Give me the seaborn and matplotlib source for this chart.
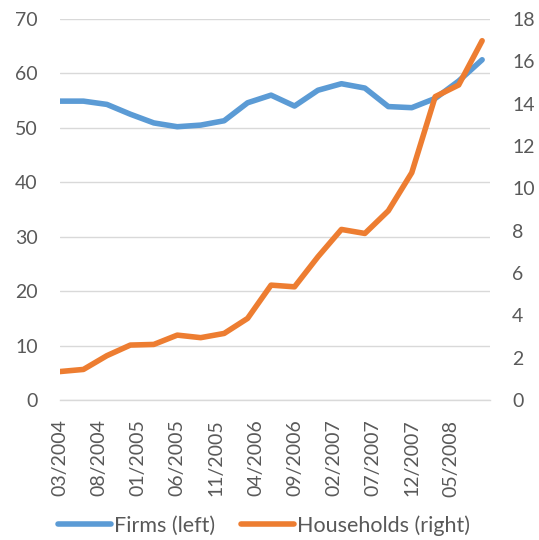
import matplotlib
matplotlib.use("Agg")
import matplotlib.pyplot as plt
import seaborn as sns
import pandas as pd
import numpy as np

# quarterly observations, x measured in months since 03/2004
months = [0, 3, 6, 9, 12, 15, 18, 21, 24, 27, 30, 33, 36, 39, 42, 45, 48, 51, 54]
firms = [54.9, 54.9, 54.3, 52.5, 50.9, 50.2, 50.5, 51.3, 54.6, 56.0,
         54.0, 56.9, 58.1, 57.3, 53.9, 53.7, 55.4, 58.6, 62.5]
households = [1.35, 1.45, 2.1, 2.6, 2.63, 3.07, 2.95, 3.15, 3.86, 5.43,
              5.35, 6.77, 8.06, 7.87, 8.94, 10.74, 14.33, 14.88, 16.97]

tick_months = [0, 5, 10, 15, 20, 25, 30, 35, 40, 45, 50, 55]
tick_labels = ["03/2004", "08/2004", "01/2005", "06/2005", "11/2005", "04/2006",
               "09/2006", "02/2007", "07/2007", "12/2007", "05/2008", ""]

df = pd.DataFrame({"month": months, "firms": firms, "households": households})

sns.set_style("white")
plt.rcParams["font.family"] = ["Lato", "DejaVu Sans"]

blue = "#5B9BD5"
orange = "#ED7D31"
grey_txt = "#595959"
grid_col = "#D9D9D9"

fig, ax = plt.subplots(figsize=(5.39, 5.40), dpi=100)
fig.subplots_adjust(left=0.1113, right=0.909, top=0.965, bottom=0.259)
ax2 = ax.twinx()

sns.lineplot(data=df, x="month", y="firms", ax=ax, color=blue, lw=4,
             label="Firms (left)", legend=False)
sns.lineplot(data=df, x="month", y="households", ax=ax2, color=orange, lw=4,
             label="Households (right)", legend=False)

ax.set_ylim(0, 70)
ax.set_yticks(np.arange(0, 71, 10))
ax2.set_ylim(0, 18)
ax2.set_yticks(np.arange(0, 19, 2))
ax.set_xlim(0, 55)
ax.set_xticks(tick_months)
ax.set_xticklabels(tick_labels, rotation=90)

ax.grid(axis="y", color=grid_col, lw=1)
ax.set_axisbelow(True)
ax2.grid(False)
ax.set_xlabel("")
ax.set_ylabel("")
ax2.set_ylabel("")

for a in (ax, ax2):
    for s in ["top", "left", "right", "bottom"]:
        a.spines[s].set_visible(False)
ax.spines["bottom"].set_visible(True)
ax.spines["bottom"].set_color(grid_col)
ax.spines["bottom"].set_linewidth(1)

ax.tick_params(axis="y", length=0, pad=16, labelsize=14, labelcolor=grey_txt)
ax2.tick_params(axis="y", length=0, pad=16, labelsize=14, labelcolor=grey_txt)
ax.tick_params(axis="x", length=5, width=1, color=grid_col, pad=9,
               labelsize=14, labelcolor=grey_txt)
ax2.tick_params(axis="x", length=0)

h1, l1 = ax.get_legend_handles_labels()
h2, l2 = ax2.get_legend_handles_labels()
leg = fig.legend(h1 + h2, l1 + l2, loc="center", bbox_to_anchor=(0.49, 0.027),
                 ncol=2, frameon=False, fontsize=15.5, handlelength=2.45,
                 handletextpad=0.15, columnspacing=1.2)
for t in leg.get_texts():
    t.set_color(grey_txt)

fig.savefig("out.png", dpi=100)
